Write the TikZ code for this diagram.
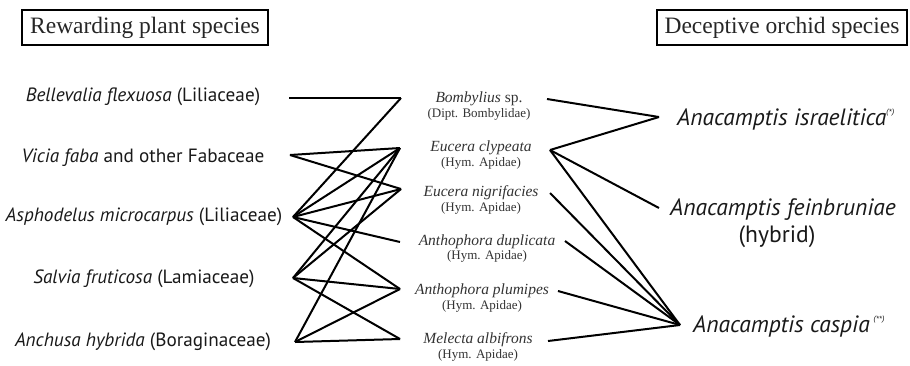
\documentclass[tikz,border=0pt]{standalone}
\usepackage{fontspec}
\setmainfont{Liberation Serif}
\setsansfont{PT Sans}
\newfontfamily\notefont{Liberation Sans}
\usetikzlibrary{positioning}
\newcommand{\orchidnote}[1]{\raisebox{10.5pt}{\notefont\fontsize{7.5}{8}\selectfont #1}}
\tikzset{
    headbox/.style = {rectangle, line width=2pt, draw=black, minimum height=35pt, inner sep=0pt, font=\fontsize{23.5}{26}\selectfont, text=black!85},
    plant/.style = {anchor=base, inner sep=0pt, font=\sffamily\fontsize{19.2}{22}\selectfont, text=black!90},
    insect/.style = {anchor=base, inner sep=0pt, font=\fontsize{15.5}{18}\selectfont, text=black!80},
    family/.style = {anchor=base, inner sep=0pt, font=\fontsize{13}{15}\selectfont, text=black!80},
    orchid/.style = {anchor=base west, inner sep=0pt, font=\sffamily\itshape\fontsize{23.6}{27}\selectfont, text=black!90},
    link/.style = {-, line width=2pt, black}
}

\begin{document}
\begin{tikzpicture}[x=1pt, y=-1pt]
  \useasboundingbox (0,0) rectangle (910,365);
  % headers
  \node[headbox, minimum width=246pt] (rew) at (145,27.5) {Rewarding plant species};
  \node[headbox, minimum width=250pt] (dec) at (782,27.5) {Deceptive orchid species};

  % rewarding plants
  \node[plant] (bel) at (143,101.7) {\textit{Bellevalia flexuosa} (Liliaceae)};
  \node[plant] (vic) at (143,162.7) {\textit{Vicia faba} and other Fabaceae};
  \node[plant] (asp) at (144,221.7) {\textit{Asphodelus microcarpus} (Liliaceae)};
  \node[plant] (sal) at (144,283.3) {\textit{Salvia fruticosa} (Lamiaceae)};
  \node[plant] (anc) at (143,346) {\textit{Anchusa hybrida} (Boraginaceae)};

  % pollinators
  \node[insect] (bomb) at (479,102.7) {\textit{Bombylius} sp.};
  \node[family] (bomb-f) at (479,117.7) {(Dipt. Bombylidae)};
  \node[insect] (cly) at (481,151.7) {\textit{Eucera clypeata}};
  \node[family] (cly-f) at (481,166.7) {(Hym. Apidae)};
  \node[insect] (nig) at (481,196) {\textit{Eucera nigrifacies}};
  \node[family] (nig-f) at (481,211) {(Hym. Apidae)};
  \node[insect] (dup) at (487,245) {\textit{Anthophora duplicata}};
  \node[family] (dup-f) at (487,259.3) {(Hym. Apidae)};
  \node[insect] (plu) at (482,294) {\textit{Anthophora plumipes}};
  \node[family] (plu-f) at (482,309) {(Hym. Apidae)};
  \node[insect] (mel) at (478,343) {\textit{Melecta albifrons}};
  \node[family] (mel-f) at (478,358) {(Hym. Apidae)};

  % orchids
  \node[orchid] (isr) at (677,125) {Anacamptis israelitica\orchidnote{(*)}};
  \node[orchid] (fei) at (670,215) {Anacamptis feinbruniae};
  \node[orchid, anchor=base, font=\sffamily\fontsize{23.6}{27}\selectfont] (hyb) at (777,242) {(hybrid)};
  \node[orchid] (cas) at (693,332) {Anacamptis caspia\,\orchidnote{(**)}};

  % line ends
  \coordinate (bel-e) at (289,98);
  \coordinate (vic-e) at (290,155);
  \coordinate (asp-e) at (293,217);
  \coordinate (sal-e) at (293,278);
  \coordinate (anc-e) at (295,342);
  \coordinate (bomb-w) at (401,98);
  \coordinate (cly-w) at (400,148);
  \coordinate (nig-w) at (401,189);
  \coordinate (dup-w) at (400,242);
  \coordinate (plu-w) at (400,289);
  \coordinate (mel-w) at (400,339);
  \coordinate (bomb-e) at (547,99);
  \coordinate (cly-e) at (550,150);
  \coordinate (nig-e) at (550,193);
  \coordinate (dup-e) at (565,241);
  \coordinate (plu-e) at (558,291);
  \coordinate (mel-e) at (548,341);
  \coordinate (isr-w) at (659,117);
  \coordinate (fei-w) at (659,208);
  \coordinate (cas-w) at (680,325);

  % plants to pollinators
  \draw[link] (bel-e) -- (bomb-w);
  \draw[link] (vic-e) -- (cly-w);
  \draw[link] (vic-e) -- (nig-w);
  \draw[link] (asp-e) -- (bomb-w);
  \draw[link] (asp-e) -- (cly-w);
  \draw[link] (asp-e) -- (nig-w);
  \draw[link] (asp-e) -- (dup-w);
  \draw[link] (asp-e) -- (plu-w);
  \draw[link] (sal-e) -- (cly-w);
  \draw[link] (sal-e) -- (nig-w);
  \draw[link] (sal-e) -- (plu-w);
  \draw[link] (sal-e) -- (mel-w);
  \draw[link] (anc-e) -- (cly-w);
  \draw[link] (anc-e) -- (plu-w);
  \draw[link] (anc-e) -- (mel-w);

  % pollinators to orchids
  \draw[link] (bomb-e) -- (isr-w);
  \draw[link] (cly-e) -- (isr-w);
  \draw[link] (cly-e) -- (fei-w);
  \draw[link] (cly-e) -- (cas-w);
  \draw[link] (nig-e) -- (cas-w);
  \draw[link] (dup-e) -- (cas-w);
  \draw[link] (plu-e) -- (cas-w);
  \draw[link] (mel-e) -- (cas-w);
\end{tikzpicture}
\end{document}
